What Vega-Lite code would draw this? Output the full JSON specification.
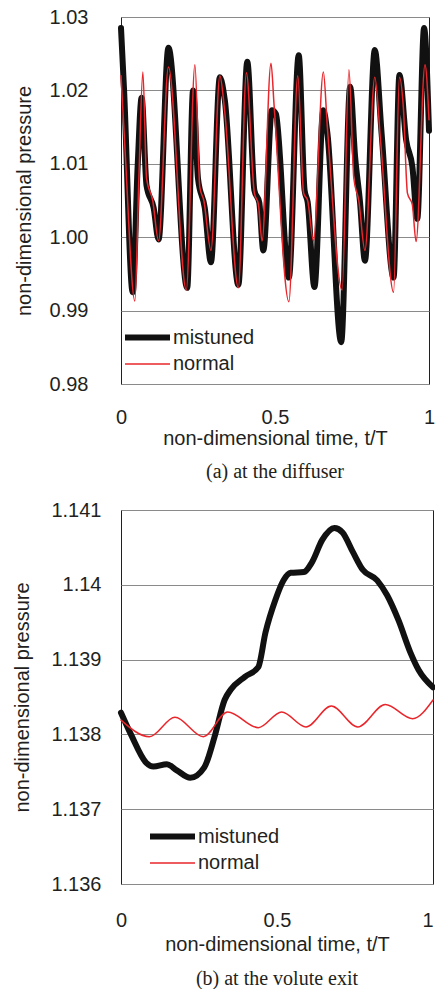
{
  "$schema": "https://vega.github.io/schema/vega-lite/v6.json",
  "padding": {"left": 12, "top": 6, "right": 0, "bottom": 0},
  "autosize": {"type": "pad"},
  "config": {
    "font": "Liberation Sans",
    "view": {"stroke": "#231f20", "strokeWidth": 1},
    "axis": {"labelFont": "Liberation Sans", "titleFont": "Liberation Sans", "labelFontSize": 20, "titleFontSize": 20, "titleFontWeight": "normal", "labelColor": "#231f20", "titleColor": "#231f20", "gridColor": "#8a8a8a", "gridWidth": 1, "domain": false, "ticks": false, "labelFlush": false},
    "legend": {"labelFont": "Liberation Sans", "labelFontSize": 20, "labelColor": "#231f20", "symbolType": "M-3,0L3,0", "symbolSize": 225, "labelOffset": 15, "rowPadding": 6, "padding": 0},
    "line": {"strokeJoin": "round", "strokeCap": "round"}
  },
  "datasets": {
    "a": [
      {"t":0,"p":1.0285,"s":"mistuned"},{"t":0.010,"p":1.020,"s":"mistuned"},{"t":0.038,"p":0.9925,"s":"mistuned"},{"t":0.054,"p":1.0096,"s":"mistuned"},{"t":0.067,"p":1.019,"s":"mistuned"},{"t":0.083,"p":1.007,"s":"mistuned"},{"t":0.106,"p":1.004,"s":"mistuned"},{"t":0.122,"p":0.9997,"s":"mistuned"},{"t":0.154,"p":1.0258,"s":"mistuned"},{"t":0.215,"p":0.9931,"s":"mistuned"},{"t":0.234,"p":1.020,"s":"mistuned"},{"t":0.250,"p":1.008,"s":"mistuned"},{"t":0.272,"p":1.004,"s":"mistuned"},{"t":0.292,"p":0.9966,"s":"mistuned"},{"t":0.321,"p":1.0218,"s":"mistuned"},{"t":0.337,"p":1.0187,"s":"mistuned"},{"t":0.381,"p":0.9935,"s":"mistuned"},{"t":0.410,"p":1.0239,"s":"mistuned"},{"t":0.433,"p":1.0064,"s":"mistuned"},{"t":0.449,"p":1.0047,"s":"mistuned"},{"t":0.462,"p":0.9982,"s":"mistuned"},{"t":0.490,"p":1.0173,"s":"mistuned"},{"t":0.503,"p":1.0168,"s":"mistuned"},{"t":0.545,"p":0.9945,"s":"mistuned"},{"t":0.577,"p":1.0248,"s":"mistuned"},{"t":0.596,"p":1.0064,"s":"mistuned"},{"t":0.606,"p":1.0048,"s":"mistuned"},{"t":0.628,"p":0.9932,"s":"mistuned"},{"t":0.657,"p":1.0173,"s":"mistuned"},{"t":0.670,"p":1.0142,"s":"mistuned"},{"t":0.715,"p":0.9857,"s":"mistuned"},{"t":0.744,"p":1.0205,"s":"mistuned"},{"t":0.760,"p":1.011,"s":"mistuned"},{"t":0.776,"p":1.0048,"s":"mistuned"},{"t":0.792,"p":0.9968,"s":"mistuned"},{"t":0.824,"p":1.0255,"s":"mistuned"},{"t":0.846,"p":1.0142,"s":"mistuned"},{"t":0.885,"p":0.9945,"s":"mistuned"},{"t":0.904,"p":1.0221,"s":"mistuned"},{"t":0.926,"p":1.0132,"s":"mistuned"},{"t":0.946,"p":1.0096,"s":"mistuned"},{"t":0.962,"p":1.0025,"s":"mistuned"},{"t":0.984,"p":1.0285,"s":"mistuned"},{"t":1.0,"p":1.0145,"s":"mistuned"},
      {"t":0,"p":1.022,"s":"normal"},{"t":0.013,"p":1.012,"s":"normal"},{"t":0.045,"p":0.9913,"s":"normal"},{"t":0.058,"p":1.008,"s":"normal"},{"t":0.071,"p":1.0225,"s":"normal"},{"t":0.083,"p":1.008,"s":"normal"},{"t":0.103,"p":1.005,"s":"normal"},{"t":0.122,"p":0.9995,"s":"normal"},{"t":0.154,"p":1.0232,"s":"normal"},{"t":0.212,"p":0.9928,"s":"normal"},{"t":0.240,"p":1.0235,"s":"normal"},{"t":0.256,"p":1.0068,"s":"normal"},{"t":0.269,"p":1.005,"s":"normal"},{"t":0.292,"p":0.9982,"s":"normal"},{"t":0.321,"p":1.022,"s":"normal"},{"t":0.337,"p":1.017,"s":"normal"},{"t":0.381,"p":0.9931,"s":"normal"},{"t":0.407,"p":1.0224,"s":"normal"},{"t":0.433,"p":1.006,"s":"normal"},{"t":0.446,"p":1.0045,"s":"normal"},{"t":0.458,"p":0.9995,"s":"normal"},{"t":0.487,"p":1.0237,"s":"normal"},{"t":0.497,"p":1.018,"s":"normal"},{"t":0.545,"p":0.9912,"s":"normal"},{"t":0.574,"p":1.022,"s":"normal"},{"t":0.593,"p":1.006,"s":"normal"},{"t":0.606,"p":1.005,"s":"normal"},{"t":0.625,"p":0.9995,"s":"normal"},{"t":0.657,"p":1.0225,"s":"normal"},{"t":0.670,"p":1.015,"s":"normal"},{"t":0.718,"p":0.9928,"s":"normal"},{"t":0.740,"p":1.0228,"s":"normal"},{"t":0.756,"p":1.008,"s":"normal"},{"t":0.772,"p":1.005,"s":"normal"},{"t":0.792,"p":0.9982,"s":"normal"},{"t":0.824,"p":1.0218,"s":"normal"},{"t":0.843,"p":1.013,"s":"normal"},{"t":0.885,"p":0.9925,"s":"normal"},{"t":0.904,"p":1.0218,"s":"normal"},{"t":0.917,"p":1.0175,"s":"normal"},{"t":0.930,"p":1.006,"s":"normal"},{"t":0.946,"p":1.0044,"s":"normal"},{"t":0.958,"p":0.9994,"s":"normal"},{"t":0.987,"p":1.0235,"s":"normal"},{"t":1.0,"p":1.016,"s":"normal"}
    ],
    "b": [
      {"t":0,"p":1.13829,"s":"mistuned"},{"t":0.033,"p":1.13799,"s":"mistuned"},{"t":0.081,"p":1.13762,"s":"mistuned"},{"t":0.104,"p":1.13757,"s":"mistuned"},{"t":0.147,"p":1.1376,"s":"mistuned"},{"t":0.179,"p":1.13752,"s":"mistuned"},{"t":0.222,"p":1.13742,"s":"mistuned"},{"t":0.267,"p":1.13756,"s":"mistuned"},{"t":0.300,"p":1.13797,"s":"mistuned"},{"t":0.332,"p":1.13846,"s":"mistuned"},{"t":0.352,"p":1.1386,"s":"mistuned"},{"t":0.397,"p":1.13877,"s":"mistuned"},{"t":0.440,"p":1.1389,"s":"mistuned"},{"t":0.463,"p":1.13936,"s":"mistuned"},{"t":0.495,"p":1.1398,"s":"mistuned"},{"t":0.521,"p":1.14006,"s":"mistuned"},{"t":0.544,"p":1.14016,"s":"mistuned"},{"t":0.586,"p":1.14017,"s":"mistuned"},{"t":0.612,"p":1.1403,"s":"mistuned"},{"t":0.645,"p":1.1406,"s":"mistuned"},{"t":0.684,"p":1.14076,"s":"mistuned"},{"t":0.710,"p":1.1407,"s":"mistuned"},{"t":0.743,"p":1.14044,"s":"mistuned"},{"t":0.775,"p":1.1402,"s":"mistuned"},{"t":0.821,"p":1.14006,"s":"mistuned"},{"t":0.853,"p":1.13986,"s":"mistuned"},{"t":0.889,"p":1.13953,"s":"mistuned"},{"t":0.928,"p":1.13909,"s":"mistuned"},{"t":0.954,"p":1.13886,"s":"mistuned"},{"t":1.0,"p":1.13863,"s":"mistuned"},
      {"t":0,"p":1.13819,"s":"normal"},{"t":0.091,"p":1.13797,"s":"normal"},{"t":0.173,"p":1.13823,"s":"normal"},{"t":0.264,"p":1.13797,"s":"normal"},{"t":0.342,"p":1.1383,"s":"normal"},{"t":0.440,"p":1.13809,"s":"normal"},{"t":0.515,"p":1.1383,"s":"normal"},{"t":0.593,"p":1.1381,"s":"normal"},{"t":0.674,"p":1.13838,"s":"normal"},{"t":0.759,"p":1.1381,"s":"normal"},{"t":0.847,"p":1.1384,"s":"normal"},{"t":0.935,"p":1.13821,"s":"normal"},{"t":1.0,"p":1.13846,"s":"normal"}
    ]
  },
  "columns": 1,
  "spacing": 16,
  "resolve": {"scale": {"color": "independent", "strokeWidth": "independent"}, "legend": {"color": "independent", "strokeWidth": "independent"}},
  "concat": [
    {
      "width": 308,
      "height": 367,
      "title": {"text": "(a) at the diffuser", "orient": "bottom", "font": "Liberation Serif", "fontSize": 20, "fontWeight": "normal", "offset": 14, "color": "#231f20"},
      "data": {"name": "a"},
      "mark": {"type": "line", "interpolate": "monotone"},
      "encoding": {
        "x": {"field": "t", "type": "quantitative", "scale": {"domain": [0, 1], "nice": false}, "axis": {"values": [0, 0.5, 1], "format": "~g", "title": "non-dimensional time, t/T", "grid": false, "labelPadding": 23, "titlePadding": 1}},
        "y": {"field": "p", "type": "quantitative", "scale": {"domain": [0.98, 1.03], "nice": false, "zero": false}, "axis": {"values": [0.98, 0.99, 1.0, 1.01, 1.02, 1.03], "format": ".2f", "title": "non-dimensional pressure", "grid": true, "labelPadding": 33, "titlePadding": 15}},
        "color": {"field": "s", "type": "nominal", "scale": {"domain": ["mistuned", "normal"], "range": ["#111111", "#e8262b"]}, "legend": {"orient": "none", "legendX": 16, "legendY": 310, "title": null}},
        "strokeWidth": {"field": "s", "type": "nominal", "scale": {"domain": ["mistuned", "normal"], "range": [6, 1.5]}, "legend": {"orient": "none", "legendX": 16, "legendY": 310, "title": null}}
      }
    },
    {
      "width": 312,
      "height": 374,
      "title": {"text": "(b) at the volute exit", "orient": "bottom", "font": "Liberation Serif", "fontSize": 20, "fontWeight": "normal", "offset": 15, "color": "#231f20"},
      "data": {"name": "b"},
      "mark": {"type": "line", "interpolate": "monotone"},
      "encoding": {
        "x": {"field": "t", "type": "quantitative", "scale": {"domain": [0, 1], "nice": false}, "axis": {"values": [0, 0.5, 1], "format": "~g", "title": "non-dimensional time, t/T", "grid": false, "labelPadding": 26, "titlePadding": 4, "labelAlign": {"expr": "datum.value == 1 ? 'right' : 'center'"}}},
        "y": {"field": "p", "type": "quantitative", "scale": {"domain": [1.136, 1.141], "nice": false, "zero": false}, "axis": {"values": [1.136, 1.137, 1.138, 1.139, 1.14, 1.141], "format": ".4~g", "title": "non-dimensional pressure", "grid": true, "labelPadding": 20, "titlePadding": 18}},
        "color": {"field": "s", "type": "nominal", "scale": {"domain": ["mistuned", "normal"], "range": ["#111111", "#e8262b"]}, "legend": {"orient": "none", "legendX": 41, "legendY": 316, "title": null}},
        "strokeWidth": {"field": "s", "type": "nominal", "scale": {"domain": ["mistuned", "normal"], "range": [6, 1.5]}, "legend": {"orient": "none", "legendX": 41, "legendY": 316, "title": null}}
      }
    }
  ]
}
